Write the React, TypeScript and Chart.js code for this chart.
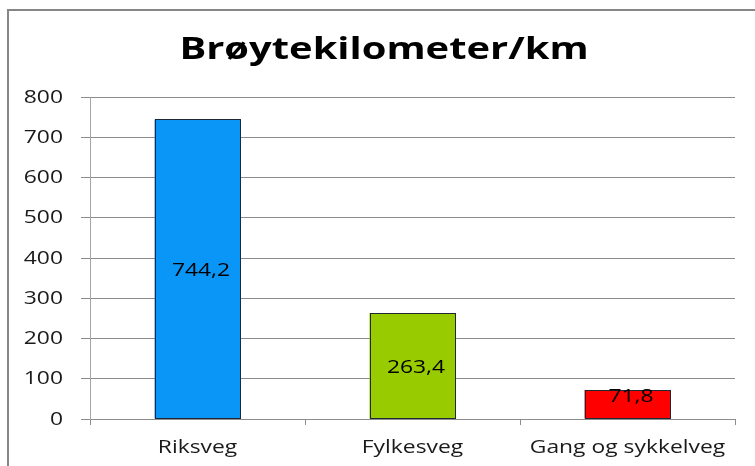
import React, { useEffect, useRef } from "react";
import { Chart, registerables } from "chart.js";

Chart.register(...registerables);

const categories = ["Riksveg", "Fylkesveg", "Gang og sykkelveg"];
const values = [744.2, 263.4, 71.8];
const barColors = ["#0A96F7", "#99CC00", "#FF0000"];
const titleText = "Brøytekilometer/km";
const yMin = 0;
const yMax = 800;
const yStep = 100;

const FONT = "'Open Sans', 'Liberation Sans', sans-serif";
const SX = 1.27;

function stretchedText(ctx: any, text: string, x: number, y: number, sx: number) {
  ctx.save();
  ctx.scale(sx, 1);
  ctx.fillText(text, x / sx, y);
  ctx.restore();
}

const frameAndTitle = {
  id: "frameAndTitle",
  beforeDraw(chart: any) {
    const { ctx } = chart;
    ctx.save();
    ctx.fillStyle = "#ffffff";
    ctx.fillRect(0, 0, chart.width, chart.height);
    ctx.strokeStyle = "#868686";
    ctx.lineWidth = 2;
    ctx.strokeRect(8, 10, chart.width + 50, chart.height + 50);
    ctx.restore();
  },
  afterDraw(chart: any) {
    const { ctx } = chart;
    ctx.save();
    ctx.font = `bold 30px ${FONT}`;
    ctx.fillStyle = "#000";
    ctx.textAlign = "center";
    ctx.textBaseline = "alphabetic";
    stretchedText(ctx, titleText, 384, 59, 1.33);

    ctx.font = `18px ${FONT}`;
    ctx.fillStyle = "#1a1a1a";
    const ys = chart.scales.y;
    ctx.textAlign = "right";
    ctx.textBaseline = "middle";
    ys.ticks.forEach((t: any) => {
      stretchedText(ctx, String(t.value), 63, ys.getPixelForValue(t.value) + 0.5, SX);
    });
    const xs = chart.scales.x;
    ctx.textAlign = "center";
    ctx.textBaseline = "alphabetic";
    xs.ticks.forEach((t: any, i: number) => {
      stretchedText(ctx, categories[i], xs.getPixelForTick(i), 453, SX);
    });
    ctx.restore();
  },
};

const valueLabels = {
  id: "valueLabels",
  afterDatasetsDraw(chart: any) {
    const { ctx } = chart;
    const meta = chart.getDatasetMeta(0);
    ctx.save();
    // crisp outlines around each bar
    ctx.strokeStyle = "#1e2833";
    ctx.lineWidth = 1;
    meta.data.forEach((bar: any) => {
      const l = Math.round(bar.x - bar.width / 2) + 0.5;
      const r = Math.round(bar.x + bar.width / 2) - 0.5;
      const t = Math.round(bar.y) + 0.5;
      const b = Math.round(bar.base) - 0.5;
      ctx.strokeRect(l, t, r - l, b - t);
    });
    ctx.font = `18px ${FONT}`;
    ctx.fillStyle = "#000";
    ctx.textAlign = "center";
    ctx.textBaseline = "middle";
    meta.data.forEach((bar: any, i: number) => {
      const v = values[i];
      const h = bar.base - bar.y;
      const y = h < 40 ? bar.y + 7 : (bar.y + bar.base) / 2 + 2;
      stretchedText(ctx, v.toFixed(1).replace(".", ","), bar.x + 3.5, y, SX);
    });
    ctx.restore();
  },
};

export default function App() {
  const ref = useRef<HTMLCanvasElement | null>(null);
  useEffect(() => {
    if (!ref.current) return;
    const chart = new Chart(ref.current, {
      type: "bar",
      data: {
        labels: categories,
        datasets: [
          {
            data: values,
            backgroundColor: barColors,
            borderWidth: 0,
            barPercentage: 0.4,
            categoryPercentage: 1,
          },
        ],
      },
      options: {
        responsive: false,
        animation: false,
        layout: { padding: { top: 97, right: 20, bottom: 0, left: 0 } },
        plugins: {
          legend: { display: false },
          title: { display: false },
          tooltip: { enabled: false },
        },
        scales: {
          x: {
            offset: true,
            grid: {
              offset: true,
              drawOnChartArea: false,
              drawTicks: true,
              tickLength: 6,
              color: "#8c8c8c",
            },
            border: { display: true, color: "#8c8c8c" },
            ticks: { display: false },
            afterFit(scale: any) {
              scale.height = 47;
            },
          },
          y: {
            min: yMin,
            max: yMax,
            ticks: { stepSize: yStep, display: false },
            grid: { color: "#8c8c8c", tickLength: 9 },
            border: { display: true, color: "#a6a6a6" },
            afterFit(scale: any) {
              scale.width = 90;
            },
          },
        },
      },
      plugins: [frameAndTitle, valueLabels],
    });
    return () => chart.destroy();
  }, []);
  return (
    <div style={{ position: "absolute", left: 0, top: 0, width: 755, height: 466 }}>
      <canvas ref={ref} width={755} height={466} />
    </div>
  );
}
